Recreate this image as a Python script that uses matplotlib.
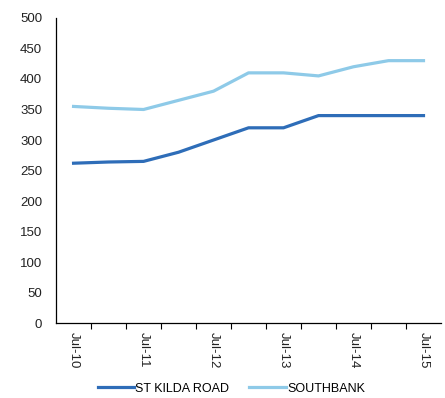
import matplotlib
matplotlib.use("Agg")
import matplotlib.pyplot as plt

plt.rcParams['font.family'] = ['Liberation Sans', 'DejaVu Sans']

# half-yearly points, Jul-10 .. Jul-15
periods = ["Jul-10", "Jan-11", "Jul-11", "Jan-12", "Jul-12", "Jan-13",
           "Jul-13", "Jan-14", "Jul-14", "Jan-15", "Jul-15"]
st_kilda = [262, 264, 265, 280, 300, 320, 320, 340, 340, 340, 340]
southbank = [355, 352, 350, 365, 380, 410, 410, 405, 420, 430, 430]

x = list(range(len(periods)))

fig = plt.figure(figsize=(4.45, 3.98), dpi=100)
ax = fig.add_axes([0.126, 0.188, 0.865, 0.767])

ax.plot(x, st_kilda, color="#2E6DB8", linewidth=2.3, label="ST KILDA ROAD")
ax.plot(x, southbank, color="#8ECAE8", linewidth=2.3, label="SOUTHBANK")

ax.set_xlim(-0.5, len(periods) - 0.5)
ax.set_ylim(0, 500)
ax.set_yticks(range(0, 501, 50))

# labels every second period, tick marks between categories
ax.set_xticks(x[::2])
ax.set_xticklabels(periods[::2], rotation=270, fontsize=9.5, color="#222222")
ax.set_xticks([i + 0.5 for i in x[:-1]], minor=True)
ax.tick_params(axis="x", which="major", length=0, pad=6)
ax.tick_params(axis="x", which="minor", length=4, width=0.8, direction="out")
ax.tick_params(axis="y", length=0, pad=10, labelsize=9.5, labelcolor="#222222")

for s in ["top", "right"]:
    ax.spines[s].set_visible(False)
for s in ["left", "bottom"]:
    ax.spines[s].set_linewidth(0.9)
    ax.spines[s].set_color("black")

fig.legend(loc="center", bbox_to_anchor=(0.52, 0.023), ncol=2, frameon=False,
           fontsize=9, handlelength=2.9, handletextpad=0.1, columnspacing=1.6)

fig.savefig("out.png", dpi=100)
